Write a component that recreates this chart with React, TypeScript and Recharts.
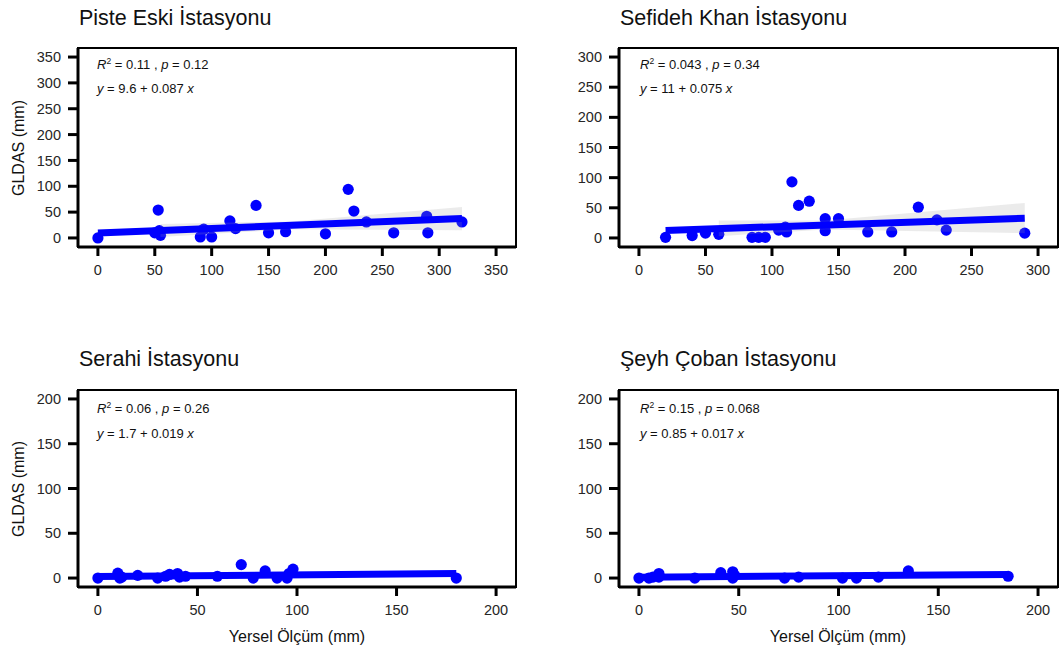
import React from 'react';
import { ComposedChart, Scatter, XAxis, YAxis, ReferenceArea } from 'recharts';

const FONT = '"Liberation Sans", Arial, Helvetica, sans-serif';

// ---- Data ----
const pisteX = [0, 53, 50, 54, 55, 90, 93, 100, 116, 121, 139, 150, 165, 200, 220, 225, 236, 260, 289, 290, 320];
const pisteY = [0, 54, 10, 14, 5, 2, 17, 2, 33, 18, 63, 10, 12, 8, 94, 52, 31, 10, 42, 10, 31];

const sefidehX = [20, 40, 50, 60, 85, 90, 95, 105, 110, 111, 115, 120, 128, 140, 140, 150, 172, 190, 210, 224, 231, 290];
const sefidehY = [1, 4, 8, 6, 1, 1, 1, 13, 18, 10, 93, 54, 61, 32, 12, 32, 10, 10, 51, 30, 13, 8];

const serahiX = [0, 10, 11, 12, 20, 30, 34, 36, 40, 41, 44, 60, 72, 78, 84, 90, 95, 96, 98, 180];
const serahiY = [0, 5.5, 0, 1, 3, 0, 2, 4, 5, 1, 2, 2, 15, 0, 8, 0, 0, 5, 10, 0];

const seyhX = [0, 5, 7, 10, 10, 28, 41, 47, 47, 48, 73, 80, 102, 109, 120, 135, 185];
const seyhY = [0, 0, 1, 5, 1, 0, 6, 7, 0, 3, 0, 1, 0, 0, 1, 8, 2];

// fitted lines: [intercept, slope, xStart, xEnd] as printed on the chart
const pisteFit = [9.6, 0.087, 0, 320];
const sefidehFit = [11, 0.075, 20, 290];
const serahiFit = [1.7, 0.019, 0, 180];
const seyhFit = [0.85, 0.017, 0, 185];

// confidence bands: x, lower, upper
const pisteBandX = [55, 170, 320];
const pisteBandLo = [2, 17, 15];
const pisteBandHi = [27, 32, 60];
const sefidehBandX = [60, 140, 290];
const sefidehBandLo = [3, 14, 8];
const sefidehBandHi = [29, 29, 58];

const ticks350 = [0, 50, 100, 150, 200, 250, 300, 350];
const ticks300 = [0, 50, 100, 150, 200, 250, 300];
const ticks200 = [0, 50, 100, 150, 200];

const titles = ['Piste Eski İstasyonu', 'Sefideh Khan İstasyonu', 'Serahi İstasyonu', 'Şeyh Çoban İstasyonu'];
const statR2 = ['0.11', '0.043', '0.06', '0.15'];
const statP = ['0.12', '0.34', '0.26', '0.068'];
const eqText = ['9.6 + 0.087', '11 + 0.075', '1.7 + 0.019', '0.85 + 0.017'];

const zip = (xs: number[], ys: number[]) => xs.map((x, i) => ({ x, y: ys[i] }));
const fitLine = (f: number[]) => [
  { x: f[2], y: f[0] + f[1] * f[2] },
  { x: f[3], y: f[0] + f[1] * f[3] },
];
const bandPoly = (xs: number[], lo: number[], hi: number[]) => [
  ...xs.map((x, i) => ({ x, y: hi[i] })),
  ...xs.map((x, i) => ({ x, y: lo[i] })).reverse(),
];

type PanelSpec = {
  left: number; top: number; right: number; bottom: number;
  xDomain: [number, number]; yDomain: [number, number];
  xTicks: number[]; yTicks: number[];
  points: { x: number; y: number }[];
  line: { x: number; y: number }[];
  band: { x: number; y: number }[] | null;
};

const panels: PanelSpec[] = [
  { left: 78, top: 48, right: 516, bottom: 247, xDomain: [-17.5, 367.5], yDomain: [-17.5, 367.5], xTicks: ticks350, yTicks: ticks350,
    points: zip(pisteX, pisteY), line: fitLine(pisteFit), band: bandPoly(pisteBandX, pisteBandLo, pisteBandHi) },
  { left: 619, top: 48, right: 1058, bottom: 247, xDomain: [-15, 315], yDomain: [-15, 315], xTicks: ticks300, yTicks: ticks300,
    points: zip(sefidehX, sefidehY), line: fitLine(sefidehFit), band: bandPoly(sefidehBandX, sefidehBandLo, sefidehBandHi) },
  { left: 78, top: 390, right: 516, bottom: 587, xDomain: [-10, 210], yDomain: [-10, 210], xTicks: ticks200, yTicks: ticks200,
    points: zip(serahiX, serahiY), line: fitLine(serahiFit), band: null },
  { left: 619, top: 390, right: 1058, bottom: 587, xDomain: [-10, 210], yDomain: [-10, 210], xTicks: ticks200, yTicks: ticks200,
    points: zip(seyhX, seyhY), line: fitLine(seyhFit), band: null },
];

const YW = 70;
const XH = 45;
const PAD = 10;

const dot = (p: any) => <circle cx={p.cx} cy={p.cy} r={5.6} fill="#0000FF" />;
const none = () => <g />;
const bandShape = (p: any) => {
  const pts = (p && p.points) || [];
  if (!pts.length) return <g />;
  const d = pts.map((q: any, i: number) => `${i ? 'L' : 'M'}${q.x},${q.y}`).join(' ') + ' Z';
  return <path d={d} fill="#999999" fillOpacity={0.2} stroke="none" />;
};

const tickStyle = { fill: '#262626', fontSize: 14.5, fontFamily: FONT };

function Panel({ s }: { s: PanelSpec }) {
  const w = s.right - s.left;
  const h = s.bottom - s.top;
  return (
    <div style={{ position: 'absolute', left: s.left - YW, top: s.top - PAD }}>
      <ComposedChart width={w + YW + PAD} height={h + PAD + XH} margin={{ top: PAD, right: PAD, bottom: 0, left: 0 }}>
        <XAxis
          type="number" dataKey="x" domain={s.xDomain} ticks={s.xTicks} allowDataOverflow interval={0}
          height={XH} tickSize={9} tickMargin={9} tick={tickStyle}
          axisLine={{ stroke: '#000', strokeWidth: 3 }} tickLine={{ stroke: '#000', strokeWidth: 3 }}
        />
        <YAxis
          type="number" dataKey="y" domain={s.yDomain} ticks={s.yTicks} allowDataOverflow interval={0}
          width={YW} tickSize={10} tickMargin={7} tick={tickStyle}
          axisLine={{ stroke: '#000', strokeWidth: 3 }} tickLine={{ stroke: '#000', strokeWidth: 3 }}
        />
        <Scatter data={s.points} shape={dot} isAnimationActive={false} />
        {s.band && (
          <Scatter data={s.band} shape={none} line={bandShape} isAnimationActive={false} />
        )}
        <Scatter data={s.line} shape={none} line={{ stroke: '#0000FF', strokeWidth: 7 }} isAnimationActive={false} />
        <ReferenceArea x1={s.xDomain[0]} x2={s.xDomain[1]} y1={s.yDomain[0]} y2={s.yDomain[1]} fill="none" stroke="#000" strokeWidth={2} ifOverflow="visible" />
      </ComposedChart>
    </div>
  );
}

function Labels() {
  const titlePos = [[79, 25], [620, 25], [79, 366], [620, 366]];
  const annPos = [[97, 69, 93], [640, 69, 93], [97, 413, 438], [640, 413, 438]];
  return (
    <svg width={1062} height={657} style={{ position: 'absolute', left: 0, top: 0, pointerEvents: 'none' }} fontFamily={FONT}>
      {titles.map((t, i) => (
        <text key={'t' + i} x={titlePos[i][0]} y={titlePos[i][1]} fontSize={21.5} fill="#111">{t}</text>
      ))}
      {annPos.map((a, i) => (
        <g key={'a' + i} fill="#111" fontSize={13}>
          <text x={a[0]} y={a[1]}>
            <tspan fontStyle="italic">R</tspan>
            <tspan fontSize={8.5} dy={-5}>2</tspan>
            <tspan dy={5}>{` = ${statR2[i]} , `}</tspan>
            <tspan fontStyle="italic">p</tspan>
            <tspan>{` = ${statP[i]}`}</tspan>
          </text>
          <text x={a[0]} y={a[2]}>
            <tspan fontStyle="italic">y</tspan>
            <tspan>{` = ${eqText[i]} `}</tspan>
            <tspan fontStyle="italic">x</tspan>
          </text>
        </g>
      ))}
      <text transform="translate(24,148) rotate(-90)" textAnchor="middle" fontSize={16} fill="#111">GLDAS (mm)</text>
      <text transform="translate(24,489) rotate(-90)" textAnchor="middle" fontSize={16} fill="#111">GLDAS (mm)</text>
      <text x={297} y={642} textAnchor="middle" fontSize={16} fill="#111">Yersel Ölçüm (mm)</text>
      <text x={838} y={642} textAnchor="middle" fontSize={16} fill="#111">Yersel Ölçüm (mm)</text>
    </svg>
  );
}

export default function App() {
  return (
    <div style={{ position: 'absolute', left: 0, top: 0, width: 1062, height: 657, background: '#fff', overflow: 'hidden' }}>
      {panels.map((s, i) => <Panel key={i} s={s} />)}
      <Labels />
    </div>
  );
}
